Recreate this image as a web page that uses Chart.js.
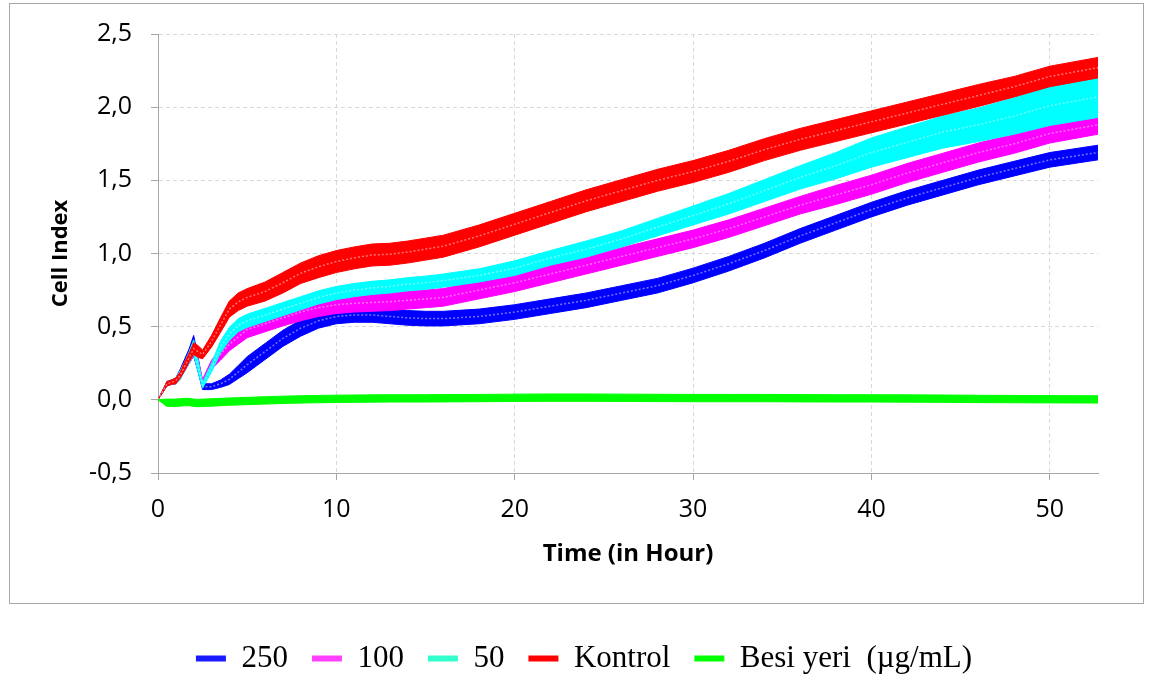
<html>
<head>
<script src="https://cdn.jsdelivr.net/npm/chart.js"></script>
<style>
body { margin: 0; background: #fff; }
#wrap { width: 1154px; height: 677px; position: relative; }
</style>
</head>
<body>
<div id="wrap"><canvas id="myChart"></canvas></div>

<script>
// time points (hours)
const times = [0,0.5,0.75,1,1.25,1.5,1.75,2,2.25,2.5, 3,3.5,4,4.5,
  5,6,7,8,9,10,11,12,13,14,15,16,
  18,20,22,24,26,28,30,32,34,36,38,40,42,44,46,48,50, 52.7];

// cell index, mean values
const s250 = [0,0.11,0.12,0.13,0.18,0.24,0.30,0.37,0.24,0.09, 0.09,0.11,0.14,0.19,
  0.24,0.33,0.42,0.49,0.54,0.57,0.58,0.58,0.57,0.56,0.555,0.555,
  0.57,0.60,0.64,0.68,0.73,0.78,0.85,0.93,1.02,1.12,1.21,1.30,1.38,1.45,1.52,1.58,1.64, 1.69];
const s100 = [0,0.11,0.12,0.13,0.17,0.23,0.29,0.35,0.24,0.12, 0.24,0.31,0.38,0.43,
  0.48,0.52,0.56,0.60,0.63,0.65,0.66,0.665,0.67,0.68,0.69,0.70,
  0.75,0.80,0.86,0.92,0.98,1.04,1.10,1.17,1.25,1.33,1.40,1.47,1.55,1.62,1.69,1.75,1.82, 1.88];
const s50 = [0,0.11,0.12,0.13,0.17,0.23,0.29,0.36,0.23,0.10, 0.22,0.36,0.45,0.51,
  0.54,0.58,0.62,0.66,0.70,0.73,0.75,0.765,0.775,0.79,0.80,0.815,
  0.85,0.90,0.97,1.03,1.10,1.18,1.26,1.34,1.43,1.52,1.60,1.69,1.76,1.83,1.88,1.94,2.01, 2.07];
const kontrol = [0,0.11,0.12,0.13,0.17,0.23,0.29,0.35,0.33,0.31, 0.40,0.51,0.62,0.67,
  0.70,0.74,0.80,0.865,0.91,0.945,0.97,0.99,0.995,1.01,1.03,1.05,
  1.12,1.20,1.28,1.36,1.43,1.50,1.56,1.63,1.71,1.78,1.84,1.90,1.96,2.02,2.08,2.14,2.21, 2.27];
const besiYeri = [0,-0.02,-0.02,-0.02,-0.018,-0.015,-0.015,-0.02,-0.022,-0.02, -0.018,-0.015,-0.012,-0.01,
  -0.008,-0.004,0,0.003,0.005,0.007,0.008,0.009,0.01,0.01,0.01,0.011,
  0.012,0.014,0.015,0.015,0.014,0.013,0.012,0.012,0.012,0.011,0.01,0.01,0.009,0.008,0.006,0.005,0.004, 0.003];

// error bar sizes (+/-)
const e250 = [0,0.015,0.015,0.02,0.03,0.04,0.05,0.07,0.05,0.02, 0.02,0.025,0.035,0.045,
  0.055,0.055,0.055,0.055,0.05,0.05,0.05,0.05,0.05,0.05,0.05,0.05,
  0.05,0.05,0.05,0.05,0.05,0.05,0.05,0.05,0.05,0.05,0.05,0.05,0.05,0.05,0.05,0.05,0.05, 0.05];
const e100 = [0,0.015,0.015,0.02,0.03,0.03,0.04,0.05,0.04,0.02, 0.03,0.04,0.045,0.05,
  0.055,0.055,0.055,0.06,0.06,0.06,0.06,0.06,0.06,0.06,0.06,0.06,
  0.06,0.06,0.06,0.06,0.06,0.06,0.06,0.06,0.06,0.06,0.065,0.065,0.065,0.065,0.065,0.065,0.065, 0.065];
const e50 = [0,0.015,0.015,0.02,0.03,0.03,0.04,0.05,0.04,0.02, 0.03,0.04,0.045,0.045,
  0.045,0.045,0.045,0.045,0.045,0.045,0.045,0.045,0.045,0.045,0.045,0.045,
  0.045,0.05,0.05,0.055,0.055,0.06,0.065,0.07,0.075,0.08,0.09,0.1,0.105,0.11,0.115,0.125,0.135, 0.14];
const eKontrol = [0,0.015,0.015,0.02,0.02,0.03,0.03,0.04,0.04,0.03, 0.04,0.05,0.055,0.06,
  0.06,0.065,0.07,0.07,0.075,0.075,0.075,0.075,0.075,0.075,0.075,0.075,
  0.075,0.075,0.075,0.075,0.075,0.075,0.075,0.075,0.075,0.075,0.075,0.075,0.075,0.075,0.075,0.07,0.07, 0.07];
const eBesi = [0,0.025,0.025,0.025,0.025,0.025,0.025,0.025,0.025,0.025, 0.025,0.025,0.025,0.025,
  0.025,0.025,0.025,0.025,0.025,0.025,0.025,0.025,0.025,0.025,0.025,0.025,
  0.025,0.025,0.025,0.025,0.025,0.025,0.025,0.025,0.025,0.025,0.025,0.025,0.025,0.025,0.025,0.025,0.025, 0.025];

const xTicks = [0, 10, 20, 30, 40, 50];
const legendText = ['250', '100', '50', 'Kontrol', 'Besi yeri  (\u00b5g/mL)'];

const series = [
  { label: legendText[0], mean: s250, err: e250, color: '#0000ff', legend: '#1a1aff' },
  { label: legendText[1], mean: s100, err: e100, color: '#ff00ff', legend: '#ff40ff' },
  { label: legendText[2], mean: s50, err: e50, color: '#00ffff', legend: '#33ffcc' },
  { label: legendText[3], mean: kontrol, err: eKontrol, color: '#ff0000', legend: '#ff0000' },
  { label: legendText[4], mean: besiYeri, err: eBesi, color: '#00ff00', legend: '#00ff00' }
];

function pts(arr) {
  return times.map(function (t, i) { return { x: t, y: arr[i] }; });
}

// each series = upper edge (filled to lower), lower edge, mean line
var datasets = [];
series.forEach(function (s, k) {
  var base = 10 - k;
  datasets.push({
    label: s.label + ' hi', data: pts(s.mean.map(function (v, i) { return v + s.err[i]; })),
    borderColor: s.color, backgroundColor: s.color, borderWidth: 1, pointRadius: 0,
    fill: '+1', order: base + 0.2, isBand: true
  });
  datasets.push({
    label: s.label + ' lo', data: pts(s.mean.map(function (v, i) { return v - s.err[i]; })),
    borderColor: s.color, backgroundColor: s.color, borderWidth: 1, pointRadius: 0,
    fill: false, order: base + 0.1, isBand: true
  });
  // mean line, a bit lighter like the gaps between the error bar caps
  datasets.push({
    label: s.label, data: pts(s.mean),
    borderColor: k == 4 ? s.color : 'rgba(255,255,255,0.45)', backgroundColor: s.color,
    borderWidth: 1.5, borderDash: k == 4 ? [] : [2, 2],
    pointRadius: 0, fill: false, order: base, legendColor: s.legend
  });
});

// white background + outer frame of the chart (legend sits outside it)
const framePlugin = {
  id: 'frame',
  beforeDraw: function (chart) {
    const ctx = chart.ctx;
    ctx.save();
    ctx.fillStyle = '#fff';
    ctx.fillRect(0, 0, chart.width, chart.height);
    ctx.strokeStyle = '#a6a6a6';
    ctx.lineWidth = 1;
    ctx.strokeRect(9.5, 3.5, 1134, 600);
    ctx.restore();
  }
};

// legend in the original is centred on the page, not on the plot box
const legendShift = {
  id: 'legendShift',
  afterLayout: function (chart) {
    if (chart.legend) {
      chart.legend.left += 30;
      chart.legend.right += 30;
    }
  }
};

const tickFont = { family: 'Open Sans', size: 25 };

const config = {
  type: 'line',
  data: { datasets: datasets },
  options: {
    responsive: true,
    maintainAspectRatio: false,
    animation: false,
    layout: { padding: { left: 10, right: 56, top: 33, bottom: -7 } },
    plugins: {
      tooltip: { enabled: false },
      legend: {
        position: 'bottom',
        labels: {
          font: { family: 'Liberation Serif', size: 31 },
          color: '#000',
          boxWidth: 30,
          boxHeight: 6,
          padding: 24,
          generateLabels: function (chart) {
            return chart.data.datasets
              .map(function (d, i) { return { d: d, i: i }; })
              .filter(function (o) { return !o.d.isBand; })
              .map(function (o) {
                return {
                  text: o.d.label, fillStyle: o.d.legendColor, strokeStyle: o.d.legendColor,
                  lineWidth: 0, hidden: false, datasetIndex: o.i, fontColor: '#000'
                };
              });
          }
        }
      }
    },
    scales: {
      x: {
        type: 'linear',
        min: 0,
        max: 52.7,
        afterBuildTicks: function (scale) {
          scale.ticks = xTicks.map(function (v) { return { value: v }; });
        },
        afterFit: function (scale) { scale.height = 146; },
        ticks: { font: tickFont, color: '#000', padding: 15, maxRotation: 0 },
        grid: { color: '#d9d9d9', tickColor: '#a6a6a6', tickLength: 7, tickBorderDash: [] },
        border: { color: '#a6a6a6', width: 1, dash: [4, 3] },
        title: {
          display: true, text: 'Time (in Hour)', color: '#000',
          font: { family: 'Open Sans', size: 24, weight: 'bold' },
          padding: { top: 0, bottom: 50 }
        }
      },
      y: {
        min: -0.5,
        max: 2.5,
        afterFit: function (scale) { scale.width = 148; },
        ticks: {
          stepSize: 0.5, font: tickFont, color: '#000', padding: 19,
          callback: function (v) { return v.toFixed(1).replace('.', ','); }
        },
        grid: { color: '#d9d9d9', tickColor: '#a6a6a6', tickLength: 7, tickBorderDash: [] },
        border: { color: '#a6a6a6', width: 1, dash: [4, 3] },
        title: {
          display: true, text: 'Cell Index', color: '#000',
          font: { family: 'Open Sans', size: 22, weight: 'bold' },
          padding: { top: 38, bottom: 0 }
        }
      }
    }
  },
  plugins: [framePlugin, legendShift]
};

const myChart = new Chart(document.getElementById('myChart'), config);
</script>
</body>
</html>
